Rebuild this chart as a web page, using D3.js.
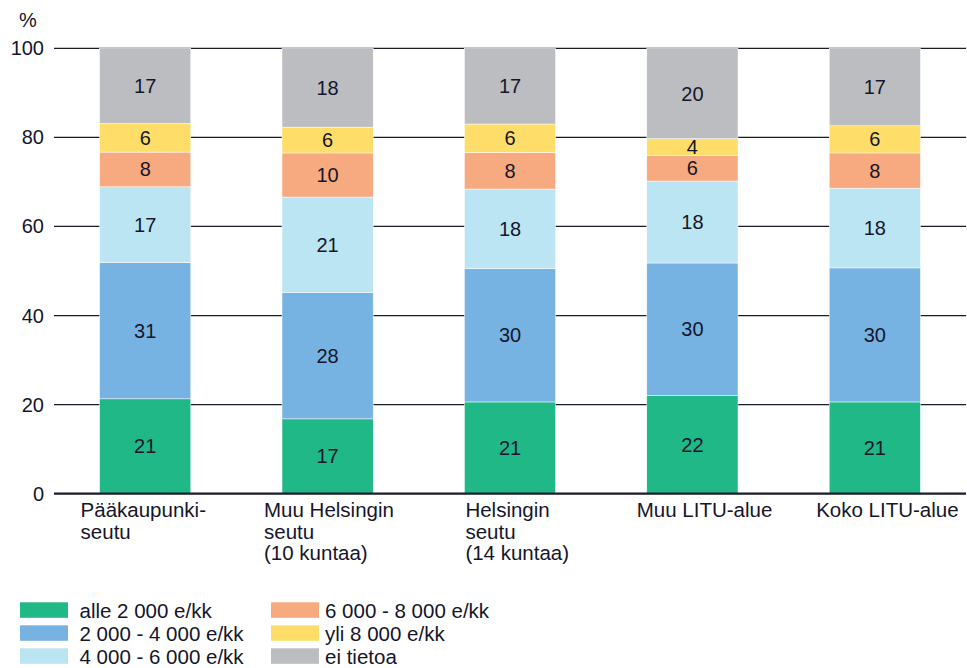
<!DOCTYPE html>
<html>
<head>
<meta charset="utf-8">
<script src="https://cdn.jsdelivr.net/npm/d3@7"></script>
<style>
  body { margin: 0; background: #fff; }
  svg text { font-family: "Liberation Sans", Arial, sans-serif; fill: #15162a; }
</style>
</head>
<body>
<div id="chart"></div>
<script>
// data
const categories = [
  ["Pääkaupunki-", "seutu"],
  ["Muu Helsingin", "seutu", "(10 kuntaa)"],
  ["Helsingin", "seutu", "(14 kuntaa)"],
  ["Muu LITU-alue"],
  ["Koko LITU-alue"]
];
const seriesNames = ["alle 2 000 e/kk", "2 000 - 4 000 e/kk", "4 000 - 6 000 e/kk",
  "6 000 - 8 000 e/kk", "yli 8 000 e/kk", "ei tietoa"];
const alle2000 = [21.3, 16.8, 20.6, 22.0, 20.6];
const v2000_4000 = [30.6, 28.4, 29.9, 29.8, 30.1];
const v4000_6000 = [17.0, 21.4, 17.9, 18.4, 17.9];
const v6000_8000 = [7.8, 9.9, 8.2, 5.8, 7.9];
const yli8000 = [6.4, 5.8, 6.4, 3.7, 6.1];
const eiTietoa = [16.9, 17.7, 17.0, 20.3, 17.4];
const yTicks = [0, 20, 40, 60, 80, 100];

const colors = ["#20b887", "#77b3e2", "#bbe5f2", "#f7aa80", "#fedd68", "#bcbdc0"];
// label block nudges relative to bar left edge
const labelDx = [-19, -18, 1, -10, -13];

const width = 967, height = 668;
const svg = d3.select("#chart").append("svg")
  .attr("width", width).attr("height", height);

const series = [alle2000, v2000_4000, v4000_6000, v6000_8000, yli8000, eiTietoa];
const rows = categories.map((c, i) => {
  const r = { key: i };
  series.forEach((s, j) => { r[j] = s[i]; });
  return r;
});
const stack = d3.stack().keys(d3.range(series.length));
const layers = stack(rows);

const x = d3.scaleBand()
  .domain(d3.range(categories.length))
  .range([54, 966])
  .paddingInner(0.5)
  .paddingOuter(0.25);

const y = d3.scaleLinear().domain([0, 100]).range([493.7, 48.3]);

// grid
svg.append("g")
  .selectAll("line")
  .data(yTicks.filter(t => t > 0))
  .enter().append("line")
  .attr("x1", 54).attr("x2", 966)
  .attr("y1", d => y(d)).attr("y2", d => y(d))
  .attr("stroke", "#1b1b2b").attr("stroke-width", 1.3);

svg.append("g")
  .selectAll("text")
  .data(yTicks)
  .enter().append("text")
  .attr("x", 44).attr("y", d => y(d) + 7)
  .attr("text-anchor", "end")
  .style("font-size", "20px")
  .text(d => d);

svg.append("text")
  .attr("x", 19).attr("y", 27)
  .style("font-size", "20px")
  .text("%");

// bars
const layer = svg.append("g")
  .selectAll("g")
  .data(layers)
  .enter().append("g")
  .attr("fill", (d, i) => colors[i]);

layer.selectAll("rect")
  .data(d => d)
  .enter().append("rect")
  .attr("x", (d, i) => x(i))
  .attr("width", x.bandwidth())
  .attr("y", d => y(d[1]))
  .attr("height", d => y(d[0]) - y(d[1]))
  .attr("stroke", "#fff").attr("stroke-width", 0.5);

layer.selectAll("text")
  .data(d => d)
  .enter().append("text")
  .attr("x", (d, i) => x(i) + x.bandwidth() / 2)
  .attr("y", d => (y(d[0]) + y(d[1])) / 2 + 7)
  .attr("text-anchor", "middle")
  .style("font-size", "20px")
  .text(d => Math.round(d[1] - d[0]));

// zero line
svg.append("line")
  .attr("x1", 54).attr("x2", 966)
  .attr("y1", y(0)).attr("y2", y(0))
  .attr("stroke", "#1b1b2b").attr("stroke-width", 2.2);

// category labels
const cat = svg.append("g")
  .selectAll("text")
  .data(categories)
  .enter().append("text")
  .attr("x", (d, i) => x(i) + labelDx[i])
  .attr("y", 517)
  .style("font-size", "20.5px");

cat.selectAll("tspan")
  .data(d => d)
  .enter().append("tspan")
  .attr("x", function () { return this.parentNode.getAttribute("x"); })
  .attr("dy", (d, i) => i === 0 ? 0 : 21.7)
  .text(d => d);

// legend
const legend = svg.append("g")
  .selectAll("g")
  .data(seriesNames)
  .enter().append("g")
  .attr("transform", (d, i) => `translate(${i < 3 ? 20 : 271}, ${602.3 + (i % 3) * 23})`);

legend.append("rect")
  .attr("width", 48).attr("height", 15.5)
  .attr("fill", (d, i) => colors[i]);

legend.append("text")
  .attr("x", (d, i) => i < 3 ? 59.5 : 54)
  .attr("y", 15.5)
  .style("font-size", "20.5px")
  .text(d => d);
</script>
</body>
</html>
